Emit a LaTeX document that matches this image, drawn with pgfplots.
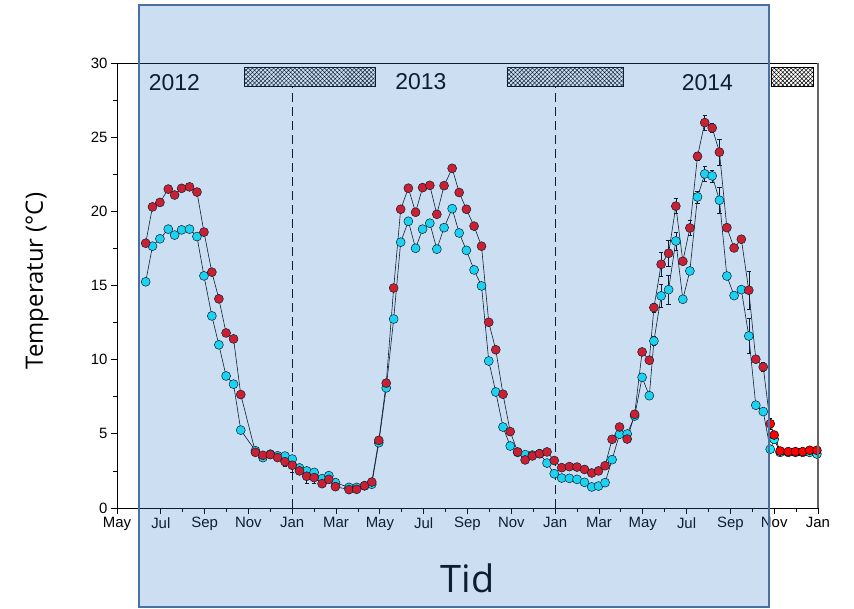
\documentclass[border=0pt]{standalone}
\usepackage{fontspec}
\setmainfont{Liberation Sans}
\newfontfamily\labelfont{Open Sans}
\usepackage{pgfplots}
\pgfplotsset{compat=1.18}
\usetikzlibrary{patterns.meta}
\definecolor{redpt}{RGB}{255,0,0}
\definecolor{cyanpt}{RGB}{20,240,255}
\definecolor{veil}{RGB}{50,125,200}
\definecolor{veilborder}{RGB}{72,112,160}

% months since May 2012
\pgfplotstableread{
x y
1.31 17.85
1.62 20.3
1.96 20.6
2.34 21.5
2.63 21.1
2.95 21.55
3.31 21.65
3.65 21.3
3.97 18.6
4.33 15.9
4.65 14.1
4.98 11.8
5.32 11.4
5.65 7.65
6.32 3.75
6.66 3.55
7.0 3.6
7.33 3.4
7.67 3.12
8.0 2.88
8.33 2.5
8.66 2.14
9.0 2.05
9.36 1.64
9.67 1.93
9.97 1.44
10.59 1.24
10.94 1.26
11.3 1.5
11.63 1.75
11.95 4.56
12.29 8.42
12.63 14.83
12.95 20.14
13.3 21.56
13.63 19.94
13.95 21.6
14.28 21.75
14.6 19.8
14.93 21.73
15.3 22.9
15.62 21.27
15.95 20.14
16.3 19.0
16.64 17.65
16.97 12.52
17.29 10.67
17.62 7.67
17.95 5.15
18.29 3.78
18.63 3.24
18.96 3.51
19.29 3.66
19.63 3.78
19.96 3.2
20.3 2.72
20.65 2.79
21.0 2.76
21.34 2.6
21.67 2.36
21.98 2.5
22.28 2.85
22.6 4.63
22.94 5.46
23.29 4.65
23.63 6.32
23.97 10.52
24.3 9.96
24.51 13.51
24.84 16.43
25.18 17.17
25.51 20.35
25.83 16.63
26.15 18.88
26.5 23.71
26.83 25.98
27.17 25.62
27.5 23.99
27.84 18.9
28.17 17.53
28.5 18.12
28.84 14.68
29.16 10.03
29.5 9.51
29.82 5.68
30.0 4.92
30.27 3.84
30.64 3.8
30.97 3.8
31.3 3.8
31.62 3.89
31.95 3.89
}\redtable

\pgfplotstableread{
x y
1.31 15.25
1.62 17.65
1.96 18.15
2.34 18.8
2.63 18.4
2.95 18.75
3.31 18.8
3.65 18.3
3.97 15.65
4.33 12.95
4.65 11.0
4.98 8.9
5.32 8.35
5.65 5.25
6.32 3.86
6.66 3.4
7.0 3.63
7.33 3.52
7.67 3.5
8.0 3.3
8.33 2.7
8.66 2.5
9.0 2.4
9.36 1.98
9.67 2.18
9.97 1.71
10.59 1.39
10.94 1.39
11.3 1.5
11.63 1.6
11.95 4.4
12.29 8.1
12.63 12.74
12.95 17.92
13.3 19.33
13.63 17.51
13.95 18.8
14.28 19.2
14.6 17.45
14.93 18.9
15.3 20.18
15.62 18.54
15.95 17.37
16.3 16.05
16.64 14.97
16.97 9.91
17.29 7.82
17.62 5.46
17.95 4.18
18.29 3.75
18.63 3.6
18.96 3.57
19.29 3.66
19.63 3.03
19.96 2.31
20.3 2.02
20.65 2.0
21.0 1.93
21.34 1.73
21.67 1.42
21.98 1.48
22.28 1.71
22.6 3.26
22.94 4.97
23.29 4.99
23.63 6.2
23.97 8.81
24.3 7.57
24.51 11.26
24.84 14.3
25.18 14.72
25.51 18.0
25.83 14.07
26.15 15.98
26.5 20.97
26.83 22.52
27.17 22.39
27.5 20.75
27.84 15.64
28.17 14.32
28.5 14.72
28.84 11.6
29.16 6.93
29.5 6.5
29.82 3.96
30.0 4.63
30.27 3.75
30.64 3.75
30.97 3.75
31.3 3.75
31.62 3.75
31.95 3.64
}\cyantable

\begin{document}
\begin{tikzpicture}
\begin{axis}[
    at={(0,0)}, anchor=south west,
    scale only axis, width=701bp, height=445bp,
    xmin=0, xmax=32, ymin=0, ymax=30,
    xtick={0,2,...,32},
    xticklabels={May,Jul,Sep,Nov,Jan,Mar,May,Jul,Sep,Nov,Jan,Mar,May,Jul,Sep,Nov,Jan},
    minor x tick num=1,
    ytick={0,5,...,30}, minor y tick num=1,
    tick pos=left, tick align=outside,
    major tick length=6bp, minor tick length=3.5bp,
    axis line style={black, line width=0.8bp},
    tick style={black, line width=0.8bp},
    ticklabel style={font=\fontsize{15}{15}\selectfont},
    /pgf/number format/assume math mode=true,
    xlabel={Tid},
    xlabel style={at={(axis description cs:0.5,-0.157)}, anchor=center, font=\labelfont\fontsize{38}{38}\selectfont},
    ylabel={Temperatur (°C)},
    ylabel style={at={(axis description cs:-0.114,0.51)}, anchor=center, font=\labelfont\fontsize{24}{24}\selectfont},
    clip=false,
]
% season bars and year separators
\fill[white] (5.82,28.4) rectangle (11.8,29.7);
\fill[white] (17.8,28.4) rectangle (23.1,29.7);
\fill[white] (29.85,28.4) rectangle (31.8,29.7);
\draw[black, line width=0.7bp, pattern={Hatch[angle=45,distance=3bp,line width=0.45bp]}] (5.82,28.4) rectangle (11.8,29.7);
\draw[black, line width=0.7bp, pattern={Hatch[angle=45,distance=3bp,line width=0.45bp]}] (17.8,28.4) rectangle (23.1,29.7);
\draw[black, line width=0.7bp, pattern={Hatch[angle=45,distance=3bp,line width=0.45bp]}] (29.85,28.4) rectangle (31.8,29.7);
\draw[black, line width=0.8bp, dash pattern=on 9bp off 5bp] (8,0) -- (8,28.4);
\draw[black, line width=0.8bp, dash pattern=on 9bp off 5bp] (20,0) -- (20,28.4);
\node[font=\fontsize{23}{23}\selectfont] at (2.62,28.7) {2012};
\node[font=\fontsize{23}{23}\selectfont] at (13.87,28.75) {2013};
\node[font=\fontsize{23}{23}\selectfont] at (26.95,28.7) {2014};

% error bars (drawn below the markers)
\addplot[draw=none, mark=none, forget plot,
    error bars/.cd, y dir=both, y explicit,
    error bar style={draw=black, line width=0.5bp},
    error mark options={black, rotate=90, mark size=2.2bp, line width=0.5bp}]
coordinates {
    (7.67,3.12) +- (0,0.3)
    (8.0,2.88) +- (0,0.5)
    (8.66,2.14) +- (0,0.5)
    (9.0,2.05) +- (0,0.4)
    (23.97,10.52) +- (0,0.2)
    (24.51,13.51) +- (0,0.3)
    (24.84,16.43) +- (0,0.8)
    (25.18,17.17) +- (0,0.9)
    (25.51,20.35) +- (0,0.5)
    (26.15,18.88) +- (0,0.5)
    (26.5,23.71) +- (0,0.3)
    (26.83,25.98) +- (0,0.5)
    (27.17,25.62) +- (0,0.3)
    (27.5,23.99) +- (0,0.9)
    (28.84,14.68) +- (0,1.3)
    (29.16,10.03) +- (0,0.2)
    (29.5,9.51) +- (0,0.3)
    (29.82,5.68) +- (0,0.4)
};
\addplot[draw=none, mark=none, forget plot,
    error bars/.cd, y dir=both, y explicit,
    error bar style={draw=black, line width=0.5bp},
    error mark options={black, rotate=90, mark size=2.2bp, line width=0.5bp}]
coordinates {
    (24.51,11.26) +- (0,0.3)
    (24.84,14.3) +- (0,0.8)
    (25.18,14.72) +- (0,1.0)
    (25.51,18.0) +- (0,0.6)
    (26.5,20.97) +- (0,0.4)
    (26.83,22.52) +- (0,0.5)
    (27.17,22.39) +- (0,0.4)
    (27.5,20.75) +- (0,0.9)
    (28.84,11.6) +- (0,1.2)
};

\addplot[black, line width=0.6bp, mark=*, mark size=4.5bp,
    mark options={draw=black, line width=0.5bp, fill=cyanpt}] table {\cyantable};
\addplot[black, line width=0.6bp, mark=*, mark size=4.5bp,
    mark options={draw=black, line width=0.5bp, fill=redpt}] table {\redtable};
\end{axis}
\draw[black!60, line width=1.3bp] (701bp,0) -- (701bp,445bp);
% translucent blue panel over the first part of the chart
\fill[veil, fill opacity=0.25] (22bp,-99bp) rectangle (652bp,503bp);
\draw[veilborder, line width=2.6bp] (22bp,-99bp) rectangle (652bp,503bp);
\pgfresetboundingbox
\path[use as bounding box] (-117bp,-101bp) rectangle (737bp,508bp);
\end{tikzpicture}
\end{document}
